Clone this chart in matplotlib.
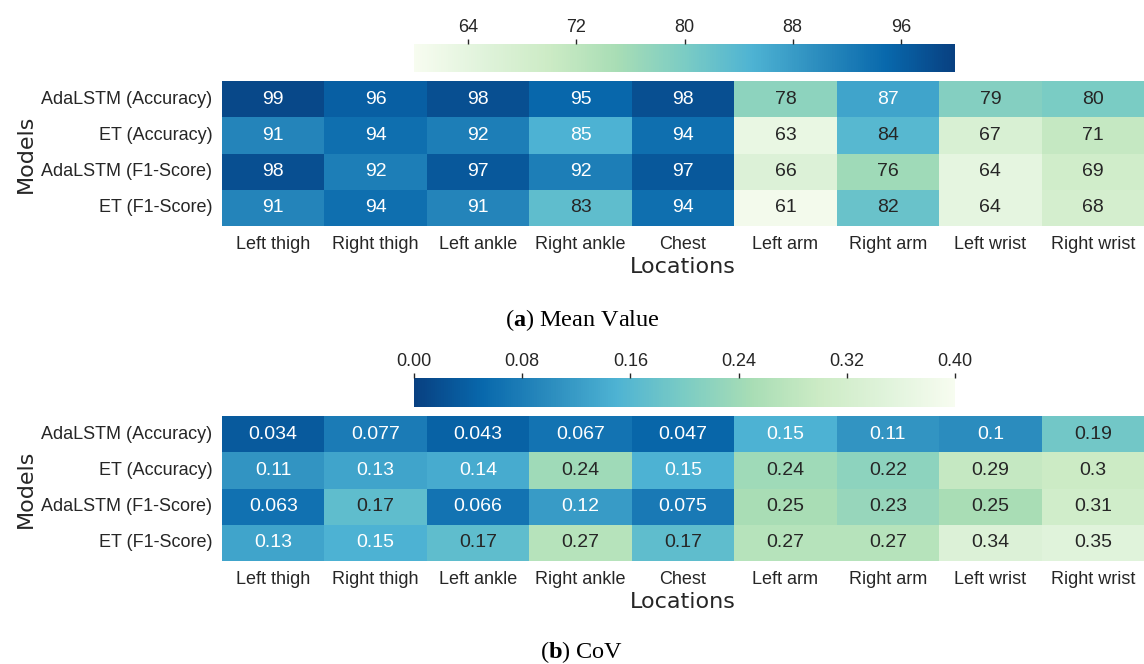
import numpy as np
import pandas as pd
import matplotlib
matplotlib.use("Agg")
import matplotlib.pyplot as plt
import seaborn as sns

plt.rcParams["font.family"] = ["Liberation Sans", "DejaVu Sans"]
plt.rcParams["mathtext.fontset"] = "custom"
plt.rcParams["mathtext.rm"] = "Liberation Serif"
plt.rcParams["mathtext.bf"] = "Liberation Serif:bold"

models = ["AdaLSTM (Accuracy)", "ET (Accuracy)", "AdaLSTM (F1-Score)", "ET (F1-Score)"]
locations = ["Left thigh", "Right thigh", "Left ankle", "Right ankle", "Chest",
             "Left arm", "Right arm", "Left wrist", "Right wrist"]

mean_ada_acc = [99, 96, 98, 95, 98, 78, 87, 79, 80]
mean_et_acc = [91, 94, 92, 85, 94, 63, 84, 67, 71]
mean_ada_f1 = [98, 92, 97, 92, 97, 66, 76, 64, 69]
mean_et_f1 = [91, 94, 91, 83, 94, 61, 82, 64, 68]

cov_ada_acc = [0.034, 0.077, 0.043, 0.067, 0.047, 0.15, 0.11, 0.1, 0.19]
cov_et_acc = [0.11, 0.13, 0.14, 0.24, 0.15, 0.24, 0.22, 0.29, 0.3]
cov_ada_f1 = [0.063, 0.17, 0.066, 0.12, 0.075, 0.25, 0.23, 0.25, 0.31]
cov_et_f1 = [0.13, 0.15, 0.17, 0.27, 0.17, 0.27, 0.27, 0.34, 0.35]

mean_df = pd.DataFrame([mean_ada_acc, mean_et_acc, mean_ada_f1, mean_et_f1],
                       index=models, columns=locations)
cov_df = pd.DataFrame([cov_ada_acc, cov_et_acc, cov_ada_f1, cov_et_f1],
                      index=models, columns=locations)

W, H = 1144, 664
fig = plt.figure(figsize=(W / 100, H / 100), dpi=100)


def px_axes(x0, y0, x1, y1):
    # pixel box (top-left origin) -> figure axes
    return fig.add_axes([x0 / W, 1 - y1 / H, (x1 - x0) / W, (y1 - y0) / H])


def draw_panel(df, cmap, vmin, vmax, ticks, tick_fmt, hm_box, cb_box, caption, cap_y):
    ax = px_axes(*hm_box)
    cax = px_axes(*cb_box)
    sns.heatmap(df, ax=ax, cbar_ax=cax, cmap=cmap, vmin=vmin, vmax=vmax,
                annot=True, fmt=".2g",
                annot_kws={"fontsize": 14, "family": "Liberation Sans"},
                cbar_kws={"orientation": "horizontal", "ticks": ticks})
    ax.tick_params(length=0, pad=7, labelsize=13, colors="#262626")
    ax.set_yticklabels(ax.get_yticklabels(), rotation=0)
    ax.set_xticklabels(ax.get_xticklabels(), rotation=0)
    ax.set_xlabel("Locations", fontsize=16, family="DejaVu Sans", color="#262626", labelpad=3)
    ax.set_ylabel("Models", fontsize=16, family="DejaVu Sans", color="#262626", labelpad=4)
    cax.xaxis.set_ticks_position("top")
    cax.tick_params(length=3.5, width=1, pad=2.5, labelsize=13, colors="#262626")
    cax.set_xticks(ticks)
    cax.set_xticklabels([tick_fmt.format(t) for t in ticks])
    for s in cax.spines.values():
        s.set_visible(False)
    fig.text(582 / W, 1 - cap_y / H, caption, ha="center", va="center",
             fontsize=17.5, family="Liberation Serif", color="black")


draw_panel(mean_df, "GnBu", 60, 100, [64, 72, 80, 88, 96], "{:.0f}",
           (222, 81, 1144, 226), (414, 44, 955, 72), r"($\mathbf{a}$) Mean Value", 320)
draw_panel(cov_df, "GnBu_r", 0.0, 0.4, [0.0, 0.08, 0.16, 0.24, 0.32, 0.40], "{:.2f}",
           (222, 416, 1144, 561), (414, 378, 955, 407), r"($\mathbf{b}$) CoV", 652)

fig.savefig("out.png", dpi=100)
